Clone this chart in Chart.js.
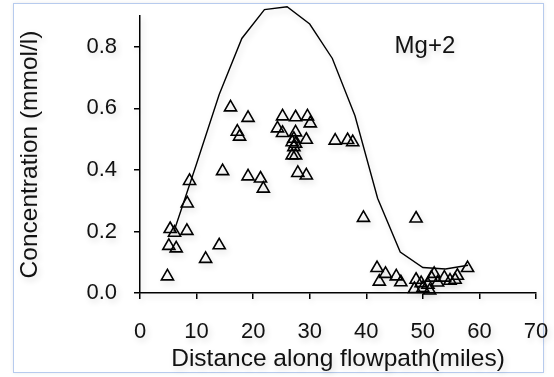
<!DOCTYPE html>
<html lang="en">
<head>
    <meta charset="UTF-8">
    <title>Mg+2 along flowpath</title>
    <script src="https://cdn.jsdelivr.net/npm/chart.js"></script>
    <style>
        html, body { margin: 0; padding: 0; background: #fff; }
        .wrap { position: relative; width: 554px; height: 377px; }
        .frame {
            position: absolute; left: 13px; top: 3px; width: 529px; height: 368px;
            border: 1.5px solid #b7cbee;
            box-shadow: 0 0 4px rgba(0,0,0,0.08);
        }
        canvas { position: absolute; left: 0; top: 0; }
    </style>
</head>
<body>
    <div class="wrap">
        <div class="frame"></div>
        <canvas id="mgChart" width="554" height="377"></canvas>
    </div>

    <script>
        // model curve (solid line)
        const lineX = [6, 10, 14, 18, 22, 26, 30, 34, 38, 42, 46, 50, 54, 58];
        const lineY = [0.20, 0.42, 0.645, 0.827, 0.921, 0.93, 0.874, 0.762, 0.576, 0.308, 0.133, 0.083, 0.078, 0.09];

        // observed samples (triangles)
        const obsX = [4.85, 5.1, 5.33, 6.1, 6.4, 8.29, 8.35, 8.76, 11.6, 14.0, 14.6, 16.0, 17.2, 17.6, 19.1, 19.1, 21.3, 21.8,
                      24.3, 25.2, 25.2, 26.9, 26.9, 27.2, 27.2, 27.5, 27.5, 27.5, 27.5, 27.9, 29.4, 29.4, 29.6, 30.1,
                      34.5, 36.7, 37.6, 39.5, 48.8,
                      41.9, 42.3, 43.4, 45.3, 46.1, 48.8, 48.5, 49.7, 50.0, 51.2, 51.5, 52.0, 52.6, 50.9, 53.8, 54.8, 55.7, 56.1, 57.9];
        const obsY = [0.054, 0.153, 0.208, 0.196, 0.145, 0.202, 0.291, 0.364, 0.111, 0.155, 0.396, 0.603, 0.524, 0.508, 0.569, 0.379, 0.372, 0.339,
                      0.535, 0.574, 0.52, 0.49, 0.447, 0.501, 0.474, 0.571, 0.522, 0.485, 0.447, 0.39, 0.382, 0.498, 0.574, 0.551,
                      0.495, 0.497, 0.49, 0.244, 0.242,
                      0.081, 0.037, 0.062, 0.054, 0.035, 0.043, 0.013, 0.032, 0.016, 0.008, 0.05, 0.062, 0.034, 0.027, 0.05, 0.04, 0.043, 0.056, 0.081];

        const xTicks = [0, 10, 20, 30, 40, 50, 60, 70];
        const yTicks = [0.0, 0.2, 0.4, 0.6, 0.8];
        const ionLabel = 'Mg+2';

        const FONT = 'Liberation Sans, Arial, sans-serif';

        // soft grey shadow under everything, like the original export
        const softShadow = {
            id: 'softShadow',
            beforeDraw(chart) {
                const c = chart.ctx;
                c.shadowColor = 'rgba(0,0,0,0.16)';
                c.shadowBlur = 6;
                c.shadowOffsetX = 2;
                c.shadowOffsetY = 3;
            }
        };

        // label inside the plot
        const ionText = {
            id: 'ionText',
            afterDatasetsDraw(chart) {
                const ctx = chart.ctx;
                const x = chart.scales.x.getPixelForValue(45);
                const y = chart.scales.y.getPixelForValue(0.80);
                ctx.save();
                ctx.font = '24px ' + FONT;
                ctx.fillStyle = '#111';
                ctx.textAlign = 'left';
                ctx.textBaseline = 'middle';
                ctx.fillText(ionLabel, x, y);
                ctx.restore();
            }
        };

        const ctx = document.getElementById('mgChart').getContext('2d');

        new Chart(ctx, {
            type: 'scatter',
            data: {
                datasets: [{
                    label: 'model',
                    data: lineX.map((x, i) => ({ x: x, y: lineY[i] })),
                    showLine: true,
                    borderColor: '#000',
                    borderWidth: 1.4,
                    pointRadius: 0,
                    tension: 0,
                    clip: false
                }, {
                    label: 'observed',
                    data: obsX.map((x, i) => ({ x: x, y: obsY[i] })),
                    pointStyle: 'triangle',
                    pointRadius: 7,
                    borderColor: '#000',
                    borderWidth: 1.6,
                    backgroundColor: 'rgba(0,0,0,0)',
                    clip: false
                }]
            },
            options: {
                responsive: false,
                animation: false,
                layout: { padding: { left: 0, right: 18, top: 16, bottom: 0 } },
                plugins: {
                    legend: { display: false },
                    tooltip: { enabled: false }
                },
                scales: {
                    x: {
                        type: 'linear',
                        min: 0,
                        max: 70,
                        afterBuildTicks: s => { s.ticks = xTicks.map(v => ({ value: v })); },
                        afterFit: s => { s.height = 84; s.paddingLeft = 0; s.paddingRight = 0; },
                        border: { display: true, color: '#000', width: 1.5 },
                        grid: { drawOnChartArea: false, drawTicks: true, tickLength: 6, color: '#000', lineWidth: 1.5 },
                        ticks: { color: '#111', padding: 20, font: { family: FONT, size: 22 } },
                        title: {
                            display: true,
                            text: 'Distance along flowpath(miles)',
                            color: '#111',
                            font: { family: FONT, size: 24.5 },
                            padding: { top: 0, bottom: 3 }
                        }
                    },
                    y: {
                        type: 'linear',
                        min: 0,
                        max: 0.9,
                        afterBuildTicks: s => { s.ticks = yTicks.map(v => ({ value: v })); },
                        afterFit: s => { s.width = 140; s.paddingTop = 0; s.paddingBottom = 0; },
                        border: { display: true, color: '#000', width: 1.5 },
                        grid: { drawOnChartArea: false, drawTicks: true, tickLength: 6, color: '#000', lineWidth: 1.5 },
                        ticks: {
                            color: '#111',
                            padding: 17,
                            font: { family: FONT, size: 22 },
                            callback: v => v.toFixed(1)
                        },
                        title: {
                            display: true,
                            text: 'Concentration (mmol/l)',
                            color: '#111',
                            font: { family: FONT, size: 24.5 },
                            padding: { top: 16, bottom: 0 }
                        }
                    }
                }
            },
            plugins: [softShadow, ionText]
        });
    </script>
</body>
</html>
